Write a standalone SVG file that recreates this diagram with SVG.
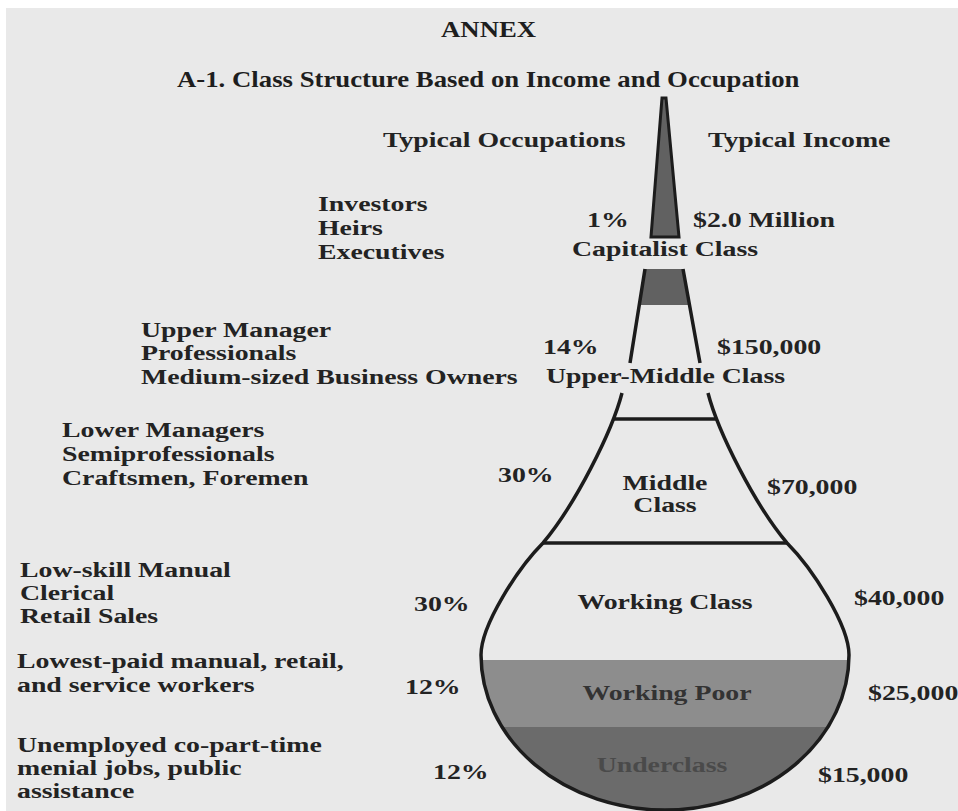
<svg xmlns="http://www.w3.org/2000/svg" width="958" height="811" viewBox="0 0 958 811">
<style>
.t{font-family:"Liberation Serif","Times New Roman",serif;font-weight:bold;font-size:20px;fill:#232323}
.h{font-family:"Liberation Serif","Times New Roman",serif;font-weight:bold;font-size:23.7px;fill:#1e1e1e}
.ln{fill:none;stroke:#1c1c1c;stroke-width:3.5}
.dk{fill:#616161}
</style>
<defs>
<clipPath id="bulbClip">
<path d="M622,393 C612,432 575,505 543,543 C518,568 481,625 481,655 A184,155 0 0 0 849,655 C849,625 812,568 787,543 C755,505 718,432 708,393 Z"/>
</clipPath>
</defs>
<rect width="958" height="811" fill="#ffffff"/>
<rect x="6" y="8" width="952" height="803" fill="#e9e9e9"/>

<g id="titles">
<text class="h" transform="matrix(1.13 0 0 1 441 37)">ANNEX</text>
<text class="h" transform="matrix(1.13 0 0 1 177 87)">A-1. Class Structure Based on Income and Occupation</text>
<text class="t" transform="matrix(1.39 0 0 1 383 147)">Typical Occupations</text>
<text class="t" transform="matrix(1.39 0 0 1 708 147)">Typical Income</text>
</g>

<g id="capitalist">
<polygon points="662,98 666,98 679,237 651,237" class="dk" stroke="#1c1c1c" stroke-width="3" stroke-linejoin="miter"/>
<text class="t" transform="matrix(1.39 0 0 1 318 211)">Investors</text>
<text class="t" transform="matrix(1.39 0 0 1 318 235)">Heirs</text>
<text class="t" transform="matrix(1.39 0 0 1 318 259)">Executives</text>
<text class="t" transform="matrix(1.39 0 0 1 587 227)">1%</text>
<text class="t" transform="matrix(1.39 0 0 1 693 227)">$2.0 Million</text>
<text class="t" transform="matrix(1.39 0 0 1 572 256)">Capitalist Class</text>
</g>

<g id="upper-middle">
<polygon points="645,269 683,269 688.7,305 639.3,305" class="dk"/>
<path class="ln" d="M645,269 L630,363 M683,269 L700,363" stroke-width="4"/>
<text class="t" transform="matrix(1.39 0 0 1 141 337)">Upper Manager</text>
<text class="t" transform="matrix(1.39 0 0 1 141 360)">Professionals</text>
<text class="t" transform="matrix(1.39 0 0 1 141 384)">Medium-sized Business Owners</text>
<text class="t" transform="matrix(1.39 0 0 1 543 354)">14%</text>
<text class="t" transform="matrix(1.39 0 0 1 717 354)">$150,000</text>
<text class="t" transform="matrix(1.39 0 0 1 546 383)">Upper-Middle Class</text>
</g>

<g id="bands" clip-path="url(#bulbClip)">
<rect x="470" y="660" width="400" height="67" fill="#8d8d8d"/>
<rect x="470" y="727" width="400" height="90" fill="#6b6b6b"/>
</g>

<g id="vessel">
<path class="ln" d="M622,393 C612,432 575,505 543,543 C518,568 481,625 481,655 A184,155 0 0 0 849,655 C849,625 812,568 787,543 C755,505 718,432 708,393"/>
<path class="ln" d="M613,419 L717,419" stroke-width="3"/>
<path class="ln" d="M543,543 L787,543" stroke-width="3"/>
</g>

<g id="middle">
<text class="t" transform="matrix(1.39 0 0 1 62 437)">Lower Managers</text>
<text class="t" transform="matrix(1.39 0 0 1 62 461)">Semiprofessionals</text>
<text class="t" transform="matrix(1.39 0 0 1 62 485)">Craftsmen, Foremen</text>
<text class="t" transform="matrix(1.39 0 0 1 498 482)">30%</text>
<text class="t" text-anchor="middle" transform="matrix(1.39 0 0 1 665 490)">Middle</text>
<text class="t" text-anchor="middle" transform="matrix(1.39 0 0 1 665 512)">Class</text>
<text class="t" transform="matrix(1.39 0 0 1 767 494)">$70,000</text>
</g>

<g id="working">
<text class="t" transform="matrix(1.39 0 0 1 20 577)">Low-skill Manual</text>
<text class="t" transform="matrix(1.39 0 0 1 20 600)">Clerical</text>
<text class="t" transform="matrix(1.39 0 0 1 20 623)">Retail Sales</text>
<text class="t" transform="matrix(1.39 0 0 1 414 611)">30%</text>
<text class="t" text-anchor="middle" transform="matrix(1.39 0 0 1 665 609)">Working Class</text>
<text class="t" transform="matrix(1.39 0 0 1 854 605)">$40,000</text>
</g>

<g id="working-poor">
<text class="t" transform="matrix(1.39 0 0 1 17 668)">Lowest-paid manual, retail,</text>
<text class="t" transform="matrix(1.39 0 0 1 17 692)">and service workers</text>
<text class="t" transform="matrix(1.39 0 0 1 405 694)">12%</text>
<text class="t" text-anchor="middle" transform="matrix(1.39 0 0 1 667 700)" style="fill:#333">Working Poor</text>
<text class="t" transform="matrix(1.39 0 0 1 868 700)">$25,000</text>
</g>

<g id="underclass">
<text class="t" transform="matrix(1.39 0 0 1 17 752)">Unemployed co-part-time</text>
<text class="t" transform="matrix(1.39 0 0 1 17 775)">menial jobs, public</text>
<text class="t" transform="matrix(1.39 0 0 1 17 798)">assistance</text>
<text class="t" transform="matrix(1.39 0 0 1 433 779)">12%</text>
<text class="t" text-anchor="middle" transform="matrix(1.39 0 0 1 662 772)" style="fill:#4a4a4a">Underclass</text>
<text class="t" transform="matrix(1.39 0 0 1 818 782)">$15,000</text>
</g>
</svg>
